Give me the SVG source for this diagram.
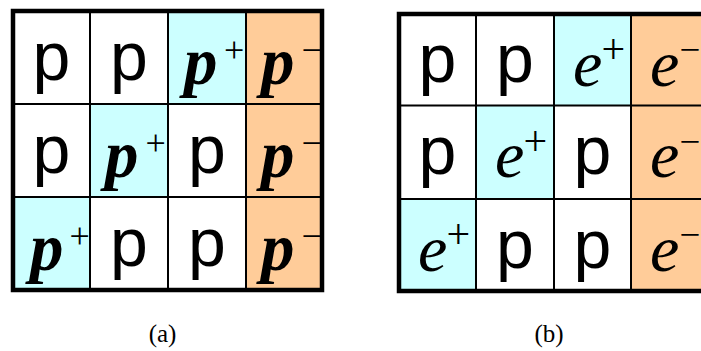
<svg xmlns="http://www.w3.org/2000/svg" width="701" height="351" viewBox="0 0 701 351">
<style>
.w{fill:#ffffff}
.c{fill:#ccffff}
.o{fill:#ffcc99}
.in{stroke:#000;stroke-width:2;fill:none}
.out{stroke:#000;stroke-width:4.5;fill:none;stroke-linejoin:miter}
.p{font-family:"Liberation Sans",Arial,sans-serif;font-size:68px;text-anchor:middle;fill:#000}
.bp{font-family:"Liberation Serif","Times New Roman",serif;font-size:67px;font-weight:bold;font-style:italic;fill:#000}
.e{font-family:"Liberation Serif","Times New Roman",serif;font-size:66px;font-style:italic;fill:#000}
.sa{font-family:"Liberation Serif","Times New Roman",serif;font-size:36px;fill:#000}
.sb{font-family:"Liberation Serif","Times New Roman",serif;font-size:42px;fill:#000}
.sm{font-family:"Liberation Serif","Times New Roman",serif;font-size:37px;fill:#000}
.cap{font-family:"Liberation Serif","Times New Roman",serif;font-size:25px;text-anchor:middle;fill:#000}
</style>
<rect x="0" y="0" width="701" height="351" fill="#fff"/>

<g id="panel-a">
  <g id="a-r1c1"><rect class="w" x="13" y="11" width="77" height="93"/><text class="p" x="51.5" y="80">p</text></g>
  <g id="a-r1c2"><rect class="w" x="90" y="11" width="78" height="93"/><text class="p" x="129" y="80">p</text></g>
  <g id="a-r1c3"><rect class="c" x="168" y="11" width="78" height="93"/><text class="bp" x="184" y="84">p</text><text class="sa" x="224" y="62">+</text></g>
  <g id="a-r1c4"><rect class="o" x="246" y="11" width="76" height="93"/><text class="bp" x="261" y="84">p</text><text class="sa" x="301.5" y="62">−</text></g>
  <g id="a-r2c1"><rect class="w" x="13" y="104" width="77" height="93"/><text class="p" x="51.5" y="173">p</text></g>
  <g id="a-r2c2"><rect class="c" x="90" y="104" width="78" height="93"/><text class="bp" x="105" y="177">p</text><text class="sa" x="145.5" y="155">+</text></g>
  <g id="a-r2c3"><rect class="w" x="168" y="104" width="78" height="93"/><text class="p" x="207" y="173">p</text></g>
  <g id="a-r2c4"><rect class="o" x="246" y="104" width="76" height="93"/><text class="bp" x="261" y="177">p</text><text class="sa" x="301.5" y="155">−</text></g>
  <g id="a-r3c1"><rect class="c" x="13" y="197" width="77" height="93"/><text class="bp" x="30" y="270">p</text><text class="sa" x="69.5" y="248">+</text></g>
  <g id="a-r3c2"><rect class="w" x="90" y="197" width="78" height="93"/><text class="p" x="129" y="266">p</text></g>
  <g id="a-r3c3"><rect class="w" x="168" y="197" width="78" height="93"/><text class="p" x="207" y="266">p</text></g>
  <g id="a-r3c4"><rect class="o" x="246" y="197" width="76" height="93"/><text class="bp" x="261" y="270">p</text><text class="sa" x="301.5" y="248">−</text></g>
</g>

<g id="panel-b">
  <g id="b-r1c1"><rect class="w" x="399" y="14" width="77" height="91.5"/><text class="p" x="437.5" y="82">p</text></g>
  <g id="b-r1c2"><rect class="w" x="476" y="14" width="78" height="91.5"/><text class="p" x="515" y="82">p</text></g>
  <g id="b-r1c3"><rect class="c" x="554" y="14" width="77" height="91.5"/><text class="e" x="573" y="86">e</text><text class="sb" x="601.5" y="63">+</text></g>
  <g id="b-r1c4"><rect class="o" x="631" y="14" width="70" height="91.5"/><text class="e" x="650" y="86">e</text><text class="sm" x="679.5" y="62">−</text></g>
  <g id="b-r2c1"><rect class="w" x="399" y="105.5" width="77" height="93.5"/><text class="p" x="437.5" y="174">p</text></g>
  <g id="b-r2c2"><rect class="c" x="476" y="105.5" width="78" height="93.5"/><text class="e" x="495" y="177">e</text><text class="sb" x="523.5" y="154.5">+</text></g>
  <g id="b-r2c3"><rect class="w" x="554" y="105.5" width="77" height="93.5"/><text class="p" x="592.5" y="174">p</text></g>
  <g id="b-r2c4"><rect class="o" x="631" y="105.5" width="70" height="93.5"/><text class="e" x="650" y="177">e</text><text class="sm" x="679.5" y="153.5">−</text></g>
  <g id="b-r3c1"><rect class="c" x="399" y="199" width="77" height="92"/><text class="e" x="418" y="271">e</text><text class="sb" x="446.5" y="248">+</text></g>
  <g id="b-r3c2"><rect class="w" x="476" y="199" width="78" height="92"/><text class="p" x="515" y="268">p</text></g>
  <g id="b-r3c3"><rect class="w" x="554" y="199" width="77" height="92"/><text class="p" x="592.5" y="268">p</text></g>
  <g id="b-r3c4"><rect class="o" x="631" y="199" width="70" height="92"/><text class="e" x="650" y="271">e</text><text class="sm" x="679.5" y="247">−</text></g>
</g>

<g id="connectors">
  <path class="in" d="M90 11V290M168 11V290M246 11V290M13 104H322M13 197H322"/>
  <rect class="out" x="13" y="11" width="309" height="279"/>
  <path class="in" d="M476 14V291M554 14V291M631 14V291M399 105.5H701M399 199H701"/>
  <path class="out" d="M703 14H399V291H703"/>
</g>

<text class="cap" x="162.5" y="342">(a)</text>
<text class="cap" x="549" y="342">(b)</text>
</svg>
